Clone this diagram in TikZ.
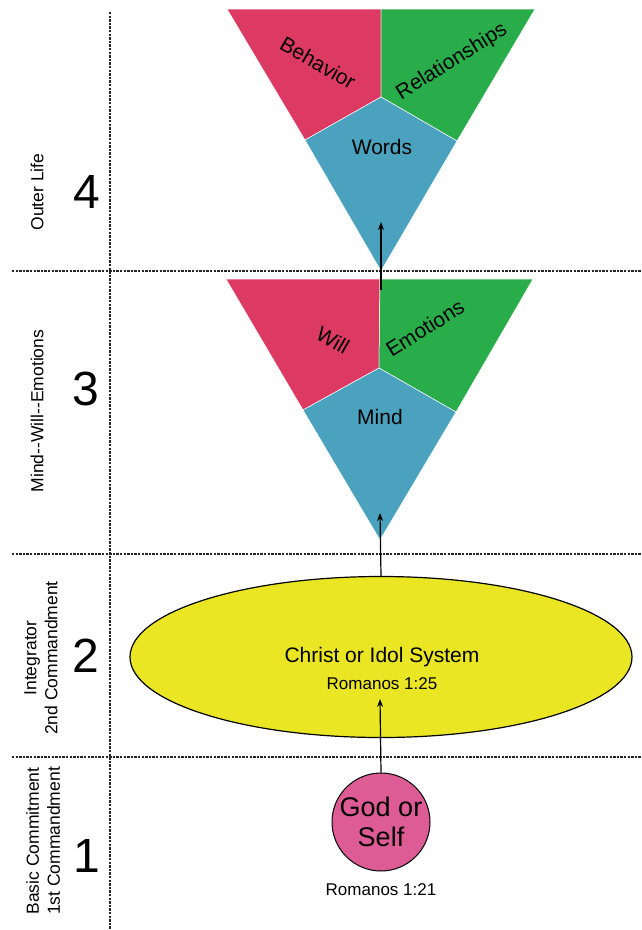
\documentclass[tikz,border=0pt]{standalone}
\usepackage{fontspec}
\setmainfont{Liberation Sans}
\usetikzlibrary{shapes.geometric,arrows.meta}
\definecolor{cred}{RGB}{220,58,98}
\definecolor{cgreen}{RGB}{40,173,74}
\definecolor{cblue}{RGB}{74,162,190}
\definecolor{cyellow}{RGB}{234,230,36}
\definecolor{cpink}{RGB}{221,92,150}
\begin{document}
\begin{tikzpicture}[x=1pt,y=-1pt,
  sepline/.style={draw=black!85, line width=2.4pt, dash pattern=on 2.4pt off 1.2pt},
  arr/.style={-{Stealth[length=8pt,width=6pt]}, line width=1.2pt, draw=black},
  seam/.style={draw=white, line width=0.5pt},
  lbl/.style={font=\fontsize{21}{25}\selectfont, inner sep=0pt},
  num/.style={font=\fontsize{48}{50}\selectfont, inner sep=0pt},
  side/.style={font=\fontsize{17.5}{21}\selectfont, rotate=90, align=center, inner sep=0pt},
  small/.style={font=\fontsize{17}{20}\selectfont, inner sep=0pt}]
\useasboundingbox (0,0) rectangle (642,930);
\fill[white] (0,0) rectangle (642,930);

% separators
\draw[sepline] (110,12) -- (110,930);
\draw[sepline] (12,271) -- (642,271);
\draw[sepline] (12,554) -- (642,554);
\draw[sepline] (12,757) -- (642,757);

% triangle 4
\coordinate (aTL) at (227,9);
\coordinate (aTM) at (381,9);
\coordinate (aTR) at (535,9);
\coordinate (aJ) at (381,97);
\coordinate (aPL) at (305,140);
\coordinate (aPR) at (457,141);
\coordinate (aA) at (381,271);
\filldraw[fill=cred,seam] (aTL) -- (aTM) -- (aJ) -- (aPL) -- cycle;
\filldraw[fill=cgreen,seam] (aTM) -- (aTR) -- (aPR) -- (aJ) -- cycle;
\filldraw[fill=cblue,seam] (aPL) -- (aJ) -- (aPR) -- (aA) -- cycle;
\node[lbl, rotate=-30] (behavior) at (318,63) {Behavior};
\node[lbl, rotate=32] (relationships) at (452,62) {Relationships};
\node[lbl] (words) at (382,147) {Words};

% triangle 3
\coordinate (bTL) at (226,279);
\coordinate (bTM) at (380,279);
\coordinate (bTR) at (533,279);
\coordinate (bJ) at (379,368);
\coordinate (bPL) at (303,410);
\coordinate (bPR) at (456,412);
\coordinate (bA) at (380,540);
\filldraw[fill=cred,seam] (bTL) -- (bTM) -- (bJ) -- (bPL) -- cycle;
\filldraw[fill=cgreen,seam] (bTM) -- (bTR) -- (bPR) -- (bJ) -- cycle;
\filldraw[fill=cblue,seam] (bPL) -- (bJ) -- (bPR) -- (bA) -- cycle;
\node[lbl, rotate=-30] (will) at (333,340) {Will};
\node[lbl, rotate=32] (emotions) at (425,328) {Emotions};
\node[lbl] (mind) at (380,417) {Mind};

% integrator ellipse
\node[ellipse, draw=black, line width=1.2pt, fill=cyellow, minimum width=502pt, minimum height=161pt, inner sep=0pt] (integ) at (381,657) {};
\node[lbl] (christ) at (382,657) {Christ or Idol System};
\node[small] (rom25) at (382,684) {Romanos 1:25};

% basic commitment circle
\node[circle, draw=black, line width=1pt, fill=cpink, minimum size=98pt, inner sep=0pt, align=center, font=\fontsize{27}{30}\selectfont] (god) at (381,822) {God or\\Self};
\node[small] (rom21) at (381,890) {Romanos 1:21};

% arrows
\coordinate (s1) at (381,290);
\coordinate (t1) at (381,222);
\coordinate (t2) at (380,513);
\coordinate (t3) at (380,699);
\draw[arr] (s1) -- (t1);
\draw[arr] (integ.north) -- (t2);
\draw[arr] (god.north) -- (t3);

% level labels
\node[num] (n4) at (87,192) {4};
\node[num] (n3) at (86,389) {3};
\node[num] (n2) at (86,656) {2};
\node[num] (n1) at (87,856) {1};
\node[side] (l4) at (37,192) {Outer Life};
\node[side] (l3) at (37,411) {Mind-{}-Will-{}-Emotions};
\node[side] (l2) at (41,658) {Integrator\\2nd Commandment};
\node[side] (l1) at (43,841) {Basic Commitment\\1st Commandment};
\end{tikzpicture}
\end{document}
